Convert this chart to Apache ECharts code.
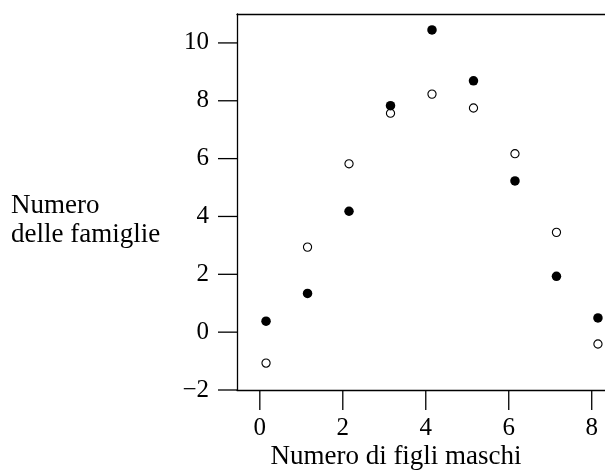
<!DOCTYPE html>
<html><head><meta charset="utf-8">
<script src="https://cdn.jsdelivr.net/npm/echarts@6/dist/echarts.min.js"></script>
<style>html,body{margin:0;padding:0;background:#fff}#c{width:605px;height:471px}</style>
</head><body><div id="c"></div>
<script>
const xValues = [0.15, 1.15, 2.15, 3.15, 4.15, 5.15, 6.15, 7.15, 8.15];
const filledValues = [0.38, 1.34, 4.18, 7.83, 10.45, 8.69, 5.23, 1.93, 0.49];
const openValues = [-1.07, 2.94, 5.82, 7.57, 8.23, 7.75, 6.17, 3.45, -0.41];
const xTicks = [0, 2, 4, 6, 8];
const yTicks = [-2, 0, 2, 4, 6, 8, 10];
const xTitle = 'Numero di figli maschi';
const yTitleLines = ['Numero', 'delle famiglie'];

const X_MIN = -0.55, X_MAX = 8.32, Y_MIN = -2, Y_MAX = 11;
const FONT = 'Liberation Serif';
const fmt = v => (v < 0 ? '\u2212' + Math.abs(v) : String(v));
const chart = echarts.init(document.getElementById('c'), null, {renderer: 'canvas'});
const axisLineStyle = {color: '#000', width: 1.3};
const tickStyle = {stroke: '#000', lineWidth: 1.3};
chart.setOption({
  animation: false,
  backgroundColor: '#fff',
  grid: {left: 237, top: 14, right: 0, bottom: 81, containLabel: false},
  xAxis: [{
    type: 'value', min: X_MIN, max: X_MAX, position: 'bottom',
    axisLine: {show: true, onZero: false, lineStyle: axisLineStyle},
    axisTick: {show: false},
    axisLabel: {show: true, customValues: xTicks, margin: 26, color: '#000', fontFamily: FONT, fontSize: 25, formatter: fmt},
    splitLine: {show: false}
  }, {
    type: 'value', min: X_MIN, max: X_MAX, position: 'top',
    axisLine: {show: true, onZero: false, lineStyle: axisLineStyle},
    axisTick: {show: false}, axisLabel: {show: false}, splitLine: {show: false}
  }],
  yAxis: {
    type: 'value', min: Y_MIN, max: Y_MAX,
    axisLine: {show: true, onZero: false, lineStyle: axisLineStyle},
    axisTick: {show: false},
    axisLabel: {show: true, customValues: yTicks, margin: 28, color: '#000', fontFamily: FONT, fontSize: 25, formatter: fmt},
    splitLine: {show: false}
  },
  series: [{
    type: 'custom', silent: true, clip: false, z: 1,
    data: xTicks,
    renderItem: (params, api) => {
      const p = api.coord([api.value(0), Y_MIN]);
      return {type: 'line', shape: {x1: p[0], y1: p[1], x2: p[0], y2: p[1] + 20}, style: tickStyle};
    }
  }, {
    type: 'custom', silent: true, clip: false, z: 1,
    data: yTicks,
    renderItem: (params, api) => {
      const p = api.coord([X_MIN, api.value(0)]);
      return {type: 'line', shape: {x1: p[0] - 19, y1: p[1], x2: p[0], y2: p[1]}, style: tickStyle};
    }
  }, {
    type: 'scatter', symbol: 'circle', symbolSize: 8.2,
    itemStyle: {color: '#fff', borderColor: '#000', borderWidth: 1.1, opacity: 1},
    data: xValues.map((x, i) => [x, openValues[i]]), z: 2
  }, {
    type: 'scatter', symbol: 'circle', symbolSize: 9.5,
    itemStyle: {color: '#000', opacity: 1},
    data: xValues.map((x, i) => [x, filledValues[i]]), z: 3
  }],
  graphic: [
    {type: 'text', x: 396, y: 457, style: {text: xTitle, fill: '#000', font: '27px "' + FONT + '"', textAlign: 'center', textVerticalAlign: 'middle'}},
    {type: 'text', x: 11, y: 206, style: {text: yTitleLines[0], fill: '#000', font: '27px "' + FONT + '"', textAlign: 'left', textVerticalAlign: 'middle'}},
    {type: 'text', x: 11, y: 235, style: {text: yTitleLines[1], fill: '#000', font: '27px "' + FONT + '"', textAlign: 'left', textVerticalAlign: 'middle'}}
  ]
});
</script></body></html>
